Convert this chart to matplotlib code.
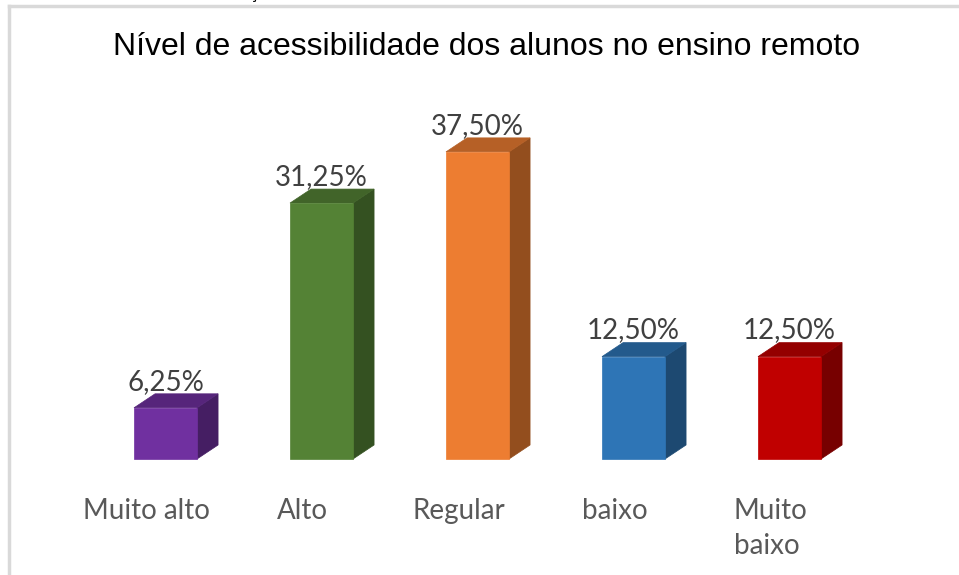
import matplotlib.pyplot as plt
from matplotlib.patches import Polygon
from matplotlib.lines import Line2D
import matplotlib.colors as mcolors

# data
categories = ["Muito alto", "Alto", "Regular", "baixo", "Muito\nbaixo"]
values = [6.25, 31.25, 37.50, 12.50, 12.50]
labels = ["6,25%", "31,25%", "37,50%", "12,50%", "12,50%"]
colors = ["#7030A0", "#548235", "#ED7D31", "#2E75B6", "#C00000"]

W, H = 959, 575
fig = plt.figure(figsize=(W / 100, H / 100), dpi=100)

# axes placed so bars land where they sit in the reference
ax = fig.add_axes([87.5 / W, (H - 459) / H, 780 / W, 327.6 / H])
ax.set_xlim(-0.5, 4.5)
ax.set_ylim(0, 40)
ax.axis("off")

bw = 0.404      # bar width (data units)
dx = 0.135      # depth offset x
dy = 1.71       # depth offset y


def shade(c, f):
    r, g, b = mcolors.to_rgb(c)
    return (r * f, g * f, b * f)


for i, (v, c) in enumerate(zip(values, colors)):
    x0, x1 = i - bw / 2, i + bw / 2
    front = Polygon([(x0, 0), (x1, 0), (x1, v), (x0, v)], closed=True,
                    facecolor=c, edgecolor=c, lw=0.5, clip_on=False)
    top = Polygon([(x0, v), (x1, v), (x1 + dx, v + dy), (x0 + dx, v + dy)],
                  closed=True, facecolor=shade(c, 0.77), edgecolor=shade(c, 0.77),
                  lw=0.5, clip_on=False)
    side = Polygon([(x1, 0), (x1 + dx, dy), (x1 + dx, v + dy), (x1, v)],
                   closed=True, facecolor=shade(c, 0.62), edgecolor=shade(c, 0.62),
                   lw=0.5, clip_on=False)
    ax.add_patch(side)
    ax.add_patch(top)
    ax.add_patch(front)
    ax.text(i, v + dy + 0.5, labels[i], ha="center", va="baseline",
            fontsize=20, family=["Lato", "DejaVu Sans"], color="#404040",
            clip_on=False)
    ax.text(i - 0.12, -4.75, categories[i], ha="center", va="top",
            multialignment="left",
            fontsize=20, family=["Lato", "DejaVu Sans"], color="#595959",
            linespacing=1.45, clip_on=False)

# title
fig.text(487 / W, 1 - 47 / H, "Nível de acessibilidade dos alunos no ensino remoto",
         ha="center", va="center", fontsize=23,
         family=["Liberation Sans", "DejaVu Sans"], color="#000000")

# chart border (top and left edge visible)
fig.add_artist(Line2D([9 / W, 1], [1 - 6 / H, 1 - 6 / H], color="#D9D9D9", lw=2.5))
fig.add_artist(Line2D([9 / W, 9 / W], [0, 1 - 6 / H], color="#D9D9D9", lw=2.5))

# cut-off character from text above the chart
fig.text(253 / W, 1 + 1 / H, "Ç", ha="center", va="baseline", fontsize=12,
         family=["Liberation Sans", "DejaVu Sans"], color="#000000")

fig.savefig("out.png", dpi=100, facecolor="white")
